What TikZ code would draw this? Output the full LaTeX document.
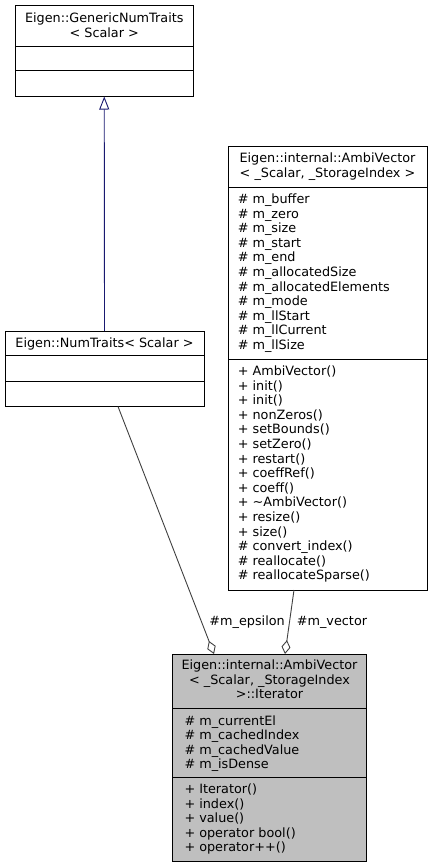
\documentclass[tikz,border=0pt]{standalone}
\usepackage{fontspec}
\setmainfont{DejaVu Sans}
\usetikzlibrary{arrows.meta}
\definecolor{edgegray}{HTML}{404040}
\definecolor{navyline}{HTML}{191970}
\definecolor{itergray}{HTML}{BFBFBF}
\begin{document}
\begin{tikzpicture}[x=1pt,y=-1pt,
  font=\fontsize{12.8}{14.6}\selectfont,
  classbox/.style={draw=black, line width=0.8pt, inner sep=0pt, outer sep=0pt, anchor=north west},
  sepline/.style={draw=black, line width=0.8pt},
  txt/.style={inner sep=0pt, outer sep=0pt, anchor=base},
  item/.style={inner sep=0pt, outer sep=0pt, anchor=base west},
  assoc/.style={draw=edgegray, line width=0.9pt, {Diamond[open, length=14pt, width=9pt]}-},
  inherit/.style={draw=navyline, line width=0.9pt, {Triangle[open, length=13pt, width=10pt]}-}]
\useasboundingbox (0,0) rectangle (432,868);

% Eigen::GenericNumTraits
\node[classbox, minimum width=178.5pt, minimum height=91pt] (gnt) at (15,5.5) {};
\draw[sepline] (15,46) -- (193.5,46);
\draw[sepline] (15,70.5) -- (193.5,70.5);
\node[txt] (gnt1) at (104.25,22.5) {Eigen::GenericNumTraits};
\node[txt] (gnt2) at (104.25,37.1) {< Scalar >};

% Eigen::NumTraits
\node[classbox, minimum width=199pt, minimum height=75.5pt] (nt) at (5,331) {};
\draw[sepline] (5,355.5) -- (204,355.5);
\draw[sepline] (5,381) -- (204,381);
\node[txt] (nt1) at (104.5,347.5) {Eigen::NumTraits< Scalar >};

% AmbiVector
\node[classbox, minimum width=199pt, minimum height=444pt] (amb) at (228,146) {};
\draw[sepline] (228,187) -- (427,187);
\draw[sepline] (228,359) -- (427,359);
\node[txt] (amb1) at (327.5,162.5) {Eigen::internal::AmbiVector};
\node[txt] (amb2) at (327.5,177.1) {< \_Scalar, \_StorageIndex >};
\foreach \t [count=\i from 0] in {\# m\_buffer, \# m\_zero, \# m\_size, \# m\_start, \# m\_end, \# m\_allocatedSize, \# m\_allocatedElements, \# m\_mode, \# m\_llStart, \# m\_llCurrent, \# m\_llSize}
  \node[item] (amba\i) at (237.8,{203.5+\i*14.6}) {\t};
\foreach \t [count=\i from 0] in {+ AmbiVector(), + init(), + init(), + nonZeros(), + setBounds(), + setZero(), + restart(), + coeffRef(), + coeff(), + \textasciitilde AmbiVector(), + resize(), + size(), \# convert\_index(), \# reallocate(), \# reallocateSparse()}
  \node[item] (ambm\i) at (237.8,{375.5+\i*14.6}) {\t};

% Iterator
\node[classbox, fill=itergray, minimum width=194pt, minimum height=207.5pt] (it) at (172.5,654) {};
\draw[sepline] (172.5,708) -- (366.5,708);
\draw[sepline] (172.5,777) -- (366.5,777);
\node[txt] (it1) at (269.5,669.5) {Eigen::internal::AmbiVector};
\node[txt] (it2) at (269.5,684.1) {< \_Scalar, \_StorageIndex};
\node[txt] (it3) at (269.5,698.7) {>::Iterator};
\foreach \t [count=\i from 0] in {\# m\_currentEl, \# m\_cachedIndex, \# m\_cachedValue, \# m\_isDense}
  \node[item] (ita\i) at (184.5,{725+\i*14.6}) {\t};
\foreach \t [count=\i from 0] in {+ Iterator(), + index(), + value(), + operator bool(), + operator++()}
  \node[item] (itm\i) at (184.5,{793.5+\i*14.6}) {\t};

% connectors
\draw[inherit] (gnt.south) -- (nt.north);
\draw[assoc] ([xshift=41.5pt]it.north west) -- ([xshift=113pt]nt.south west);
\draw[assoc] ([xshift=112.5pt]it.north west) -- ([xshift=66pt]amb.south west);
\node[inner sep=0pt, anchor=base east] (lblE) at (285,625) {\#m\_epsilon};
\node[inner sep=0pt, anchor=base west] (lblV) at (296.7,625) {\#m\_vector};
\end{tikzpicture}
\end{document}
